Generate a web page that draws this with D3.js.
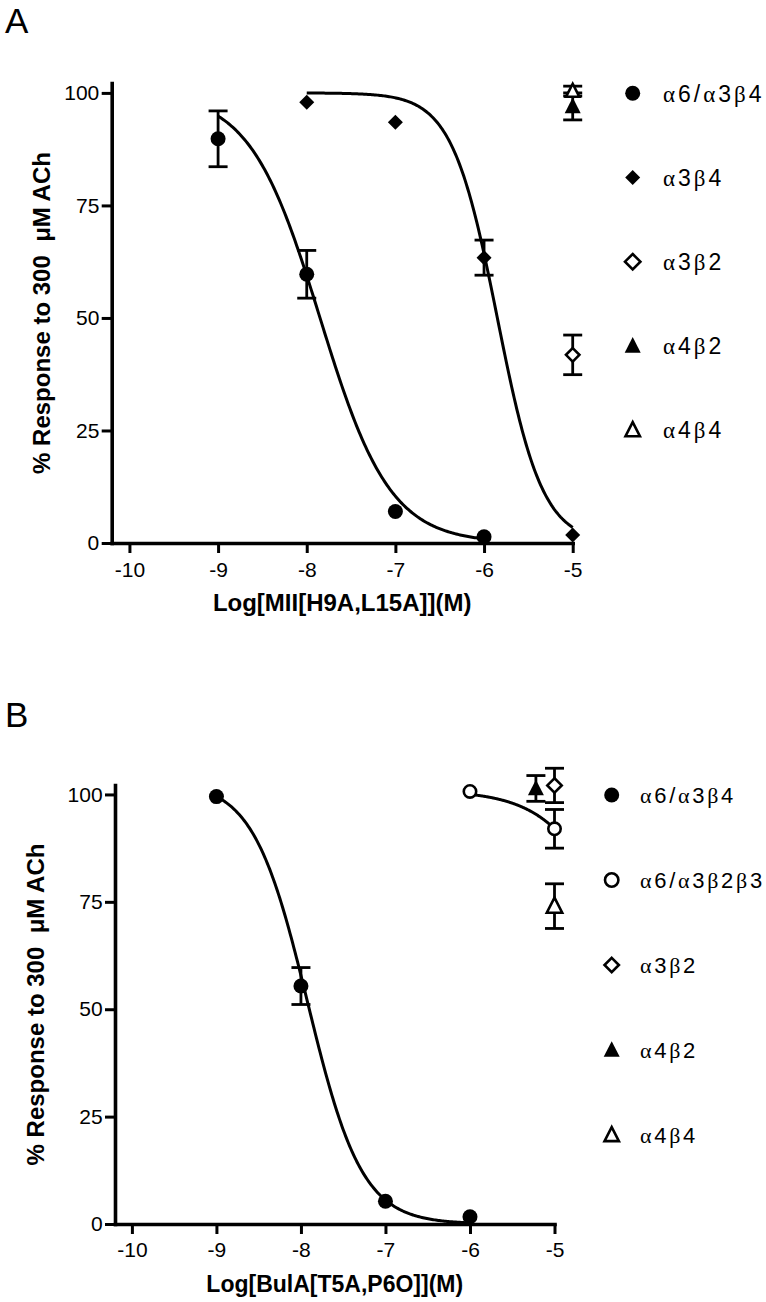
<!DOCTYPE html>
<html><head><meta charset="utf-8">
<script src="https://cdn.jsdelivr.net/npm/d3@7"></script>
<style>
body{margin:0;background:#fff}
svg{display:block}
text{font-family:"Liberation Sans",Arial,sans-serif;fill:#000}
</style>
</head><body>
<svg id="c" width="766" height="1302"></svg>
<script>
// ---------------- data ----------------
const xTickValues = [-10, -9, -8, -7, -6, -5];
const yTickValues = [0, 25, 50, 75, 100];
const xDomain = [-10.2, -5];
const yDomain = [0, 102.2];

const panelLabels = ["A", "B"];
const aXTitle = "Log[MII[H9A,L15A]](M)";
const bXTitle = "Log[BulA[T5A,P6O]](M)";
const yTitleText = "% Response to 300  μM ACh";

const aLegendNames = ["α6/α3β4", "α3β4", "α3β2", "α4β2", "α4β4"];
const bLegendNames = ["α6/α3β4", "α6/α3β2β3", "α3β2", "α4β2", "α4β4"];

// Panel A series
const aA6A3B4X = [-9, -8, -7, -6];
const aA6A3B4Y = [89.8, 59.7, 7.0, 1.4];
const aA6A3B4E = [6.2, 5.3, 0, 0];
const aA3B4X = [-8, -7, -6, -5];
const aA3B4Y = [97.9, 93.5, 63.4, 1.8];
const aA3B4E = [0, 0, 3.9, 0];
const aA3B2X = [-5], aA3B2Y = [41.8], aA3B2E = [4.4];
const aA4B2X = [-5], aA4B2Y = [97.0], aA4B2E = [3.0];
const aA4B4X = [-5], aA4B4Y = [100.4], aA4B4E = [1.1];
// fitted curves: [top, bottom, logIC50, hill slope]
const aFitA6A3B4 = [100, 0, -7.85, 1.1];
const aFitA3B4 = [100, 0, -5.85, 1.7];

// Panel B series
const bA6A3B4X = [-9, -8, -7, -6];
const bA6A3B4Y = [99.5, 55.4, 5.3, 1.7];
const bA6A3B4E = [0, 4.3, 0, 0];
const bA6A3B2B3X = [-6, -5];
const bA6A3B2B3Y = [100.7, 92.0];
const bA6A3B2B3E = [0, 4.5];
const bA3B2X = [-5], bA3B2Y = [102.1], bA3B2E = [4.0];
const bA4B2X = [-5.22], bA4B2Y = [101.4], bA4B2E = [3.0];
const bA4B4X = [-5], bA4B4Y = [74.0], bA4B4E = [5.2];
const bFitA6A3B4 = [103, 0, -7.92, 1.35];
const bFitA6A3B2B3 = [101, 0, -3.99, 1.0];

// ---------------- drawing ----------------
const svg = d3.select("#c");
const hill = (p, x) => p[1] + (p[0] - p[1]) / (1 + Math.pow(10, (x - p[2]) * p[3]));

function markerPath(shape, s) {
  if (shape === "diamond") return `M0,${-s}L${s},0L0,${s}L${-s},0Z`;
  if (shape === "triangle") return `M0,${-s * 1.1}L${s},${s * 0.85}L${-s},${s * 0.85}Z`;
  return null;
}
function drawMarker(g, shape, filled, cx, cy, s) {
  const sw = 2.6;
  if (shape === "circle") {
    g.append("circle").attr("cx", cx).attr("cy", cy)
      .attr("r", filled ? s : s - sw / 2)
      .attr("fill", filled ? "#000" : "#fff")
      .attr("stroke", filled ? "none" : "#000").attr("stroke-width", sw);
  } else {
    g.append("path").attr("transform", `translate(${cx},${cy})`)
      .attr("d", markerPath(shape, filled ? s : s - sw / 2))
      .attr("fill", filled ? "#000" : "#fff")
      .attr("stroke", filled ? "none" : "#000").attr("stroke-width", sw)
      .attr("stroke-linejoin", "miter");
  }
}
function mixedText(sel, str) {
  const parts = str.match(/[αβ]+|[^αβ]+/g);
  parts.forEach(p => {
    const t = sel.append("tspan").text(p);
    if (/[αβ]/.test(p)) t.style("font-family", "'Liberation Serif','DejaVu Serif',serif");
  });
}

function panel(cfg) {
  const x = d3.scaleLinear().domain(xDomain).range(cfg.xr);
  const y = d3.scaleLinear().domain(yDomain).range(cfg.yr);
  const g = svg.append("g");

  // axes
  const ax = g.append("g").attr("transform", `translate(0,${cfg.yr[0]})`)
    .call(d3.axisBottom(x).tickValues(xTickValues).tickSize(10).tickSizeOuter(0)
      .tickPadding(cfg.xPad).tickFormat(d => String(d)));
  const ay = g.append("g").attr("transform", `translate(${cfg.xr[0]},0)`)
    .call(d3.axisLeft(y).tickValues(yTickValues).tickSize(10).tickSizeOuter(0)
      .tickPadding(2.4).tickFormat(d => String(d)));
  [ax, ay].forEach(a => {
    a.select(".domain").attr("stroke", "#000").attr("stroke-width", 3.6).attr("stroke-linecap", "square");
    a.selectAll(".tick line").attr("stroke", "#000").attr("stroke-width", 3);
    a.selectAll(".tick text").style("font-size", "21px").style("font-family", "'Liberation Sans',Arial,sans-serif").attr("fill", "#000");
  });

  // curves
  const line = d3.line().x(d => x(d[0])).y(d => y(d[1]));
  cfg.series.forEach(s => {
    if (!s.fit) return;
    const lo = d3.min(s.x), hi = d3.max(s.x);
    const pts = d3.range(0, 201).map(i => { const xv = lo + (hi - lo) * i / 200; return [xv, hill(s.fit, xv)]; });
    g.append("path").attr("d", line(pts)).attr("fill", "none").attr("stroke", "#000").attr("stroke-width", 3);
  });

  // error bars
  cfg.series.forEach(s => {
    s.x.forEach((xv, i) => {
      const e = s.e[i];
      if (!e) return;
      const cx = x(xv), y1 = y(s.y[i] + e), y2 = y(s.y[i] - e);
      g.append("line").attr("x1", cx).attr("x2", cx).attr("y1", y1).attr("y2", y2).attr("stroke", "#000").attr("stroke-width", 2.8);
      [y1, y2].forEach(yy => g.append("line").attr("x1", cx - 9.5).attr("x2", cx + 9.5).attr("y1", yy).attr("y2", yy).attr("stroke", "#000").attr("stroke-width", 2.8));
    });
  });

  // markers
  cfg.series.forEach(s => {
    s.x.forEach((xv, i) => drawMarker(g, s.shape, s.filled, x(xv), y(s.y[i]), s.size));
  });

  // legend
  cfg.series.forEach((s, i) => {
    const ly = cfg.legY0 + i * cfg.legStep;
    drawMarker(g, s.shape, s.filled, cfg.legSymX, ly, s.legSize);
    const t = g.append("text").attr("x", cfg.legTextX).attr("y", ly).attr("dy", "0.36em")
      .style("font-size", cfg.legFont + "px").style("letter-spacing", cfg.legSpacing + "px");
    mixedText(t, cfg.names[i]);
  });

  // titles
  g.append("text").attr("x", (cfg.xr[0] + cfg.xr[1]) / 2).attr("y", cfg.xTitleY)
    .attr("text-anchor", "middle").style("font-weight", "bold").style("font-size", cfg.xTitleFont + "px")
    .text(cfg.xTitle);
  g.append("text").attr("transform", `translate(${cfg.yTitleX},${(cfg.yr[0] + cfg.yr[1]) / 2}) rotate(-90)`)
    .attr("text-anchor", "middle").style("font-weight", "bold").style("font-size", "24px")
    .style("white-space", "pre")
    .text(yTitleText);
  g.append("text").attr("x", cfg.labX).attr("y", cfg.labY).style("font-size", "35px").text(cfg.label);
}

panel({
  label: panelLabels[0], labX: 5, labY: 33,
  xr: [111.7, 572.7], yr: [543, 83], xPad: 9,
  xTitle: aXTitle, xTitleY: 611, xTitleFont: 24, yTitleX: 50,
  legSymX: 632.7, legTextX: 663, legY0: 93.3, legStep: 84.2, legFont: 23, legSpacing: 3,
  names: aLegendNames,
  series: [
    { x: aA6A3B4X, y: aA6A3B4Y, e: aA6A3B4E, fit: aFitA6A3B4, shape: "circle", filled: true, size: 7.5, legSize: 7.5 },
    { x: aA3B4X, y: aA3B4Y, e: aA3B4E, fit: aFitA3B4, shape: "diamond", filled: true, size: 7.5, legSize: 7.5 },
    { x: aA3B2X, y: aA3B2Y, e: aA3B2E, shape: "diamond", filled: false, size: 8, legSize: 9 },
    { x: aA4B2X, y: aA4B2Y, e: aA4B2E, shape: "triangle", filled: true, size: 8, legSize: 8 },
    { x: aA4B4X, y: aA4B4Y, e: aA4B4E, shape: "triangle", filled: false, size: 8, legSize: 8.5 }
  ]
});

panel({
  label: panelLabels[1], labX: 5, labY: 727,
  xr: [115, 554.5], yr: [1224, 785], xPad: 8,
  xTitle: bXTitle, xTitleY: 1292, xTitleFont: 23, yTitleX: 44,
  legSymX: 611.7, legTextX: 640, legY0: 795, legStep: 85, legFont: 22, legSpacing: 2.7,
  names: bLegendNames,
  series: [
    { x: bA6A3B4X, y: bA6A3B4Y, e: bA6A3B4E, fit: bFitA6A3B4, shape: "circle", filled: true, size: 7.5, legSize: 7.5 },
    { x: bA6A3B2B3X, y: bA6A3B2B3Y, e: bA6A3B2B3E, fit: bFitA6A3B2B3, shape: "circle", filled: false, size: 7.5, legSize: 8 },
    { x: bA3B2X, y: bA3B2Y, e: bA3B2E, shape: "diamond", filled: false, size: 8.5, legSize: 8.5 },
    { x: bA4B2X, y: bA4B2Y, e: bA4B2E, shape: "triangle", filled: true, size: 8, legSize: 8 },
    { x: bA4B4X, y: bA4B4Y, e: bA4B4E, shape: "triangle", filled: false, size: 9, legSize: 8.5 }
  ]
});
</script>
</body></html>
